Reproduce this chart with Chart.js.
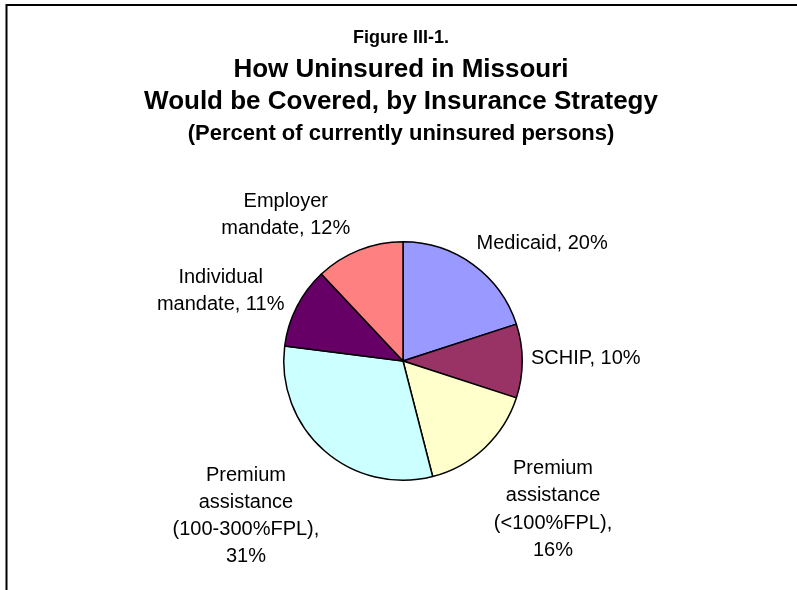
<!DOCTYPE html>
<html lang="en">

<head>
  <meta charset="utf-8">
  <meta name="viewport" content="width=device-width,initial-scale=1.0">
  <script src="https://cdn.jsdelivr.net/npm/chart.js@4.4.1/dist/chart.umd.min.js"></script>
  <title>Figure III-1</title>
</head>

<body>
  <canvas id="pie-chart" width="797" height="590"></canvas>
</body>

</html>

<style>
  body {
    margin: 0;
    background: #fff;
  }

  canvas {
    display: block;
  }
</style>

<script>
// data
const categories = ["Medicaid", "SCHIP", "Premium\nassistance\n(<100%FPL)", "Premium\nassistance\n(100-300%FPL)", "Individual\nmandate", "Employer\nmandate"];
const shares = [20, 10, 16, 31, 11, 12];
const colors = ['#9999FF', '#993366', '#FFFFCC', '#CCFFFF', '#660066', '#FF8080'];
const titleLines = ["Figure III-1.", "How Uninsured in Missouri", "Would be Covered, by Insurance Strategy", "(Percent of currently uninsured persons)"];

// label layout: percent on its own line or not, and where the block sits (in pie radii from centre)
const pctOwnLine = [false, false, true, true, false, false];
const labelSpot = [[1.167, -0.983], [1.533, -0.017], [1.258, 1.245], [-1.317, 1.300], [-1.529, -0.585], [-0.983, -1.225]];

const FONT = '"Liberation Sans", Arial, sans-serif';
const titleFonts = ['bold 18px ' + FONT, 'bold 26px ' + FONT, 'bold 26px ' + FONT, 'bold 22px ' + FONT];
const titleBase = [43, 77, 109, 140];

function labelLines(i) {
  const parts = categories[i].split("\n");
  if (pctOwnLine[i]) {
    parts[parts.length - 1] += ",";
    parts.push(shares[i] + "%");
  } else {
    parts[parts.length - 1] += ", " + shares[i] + "%";
  }
  return parts;
}

const decor = {
  id: 'decor',
  beforeDraw(chart) {
    const ctx = chart.ctx;
    ctx.save();
    ctx.fillStyle = '#fff';
    ctx.fillRect(0, 0, chart.width, chart.height);
    ctx.strokeStyle = '#000';
    ctx.lineWidth = 2;
    ctx.beginPath();
    ctx.moveTo(6.5, chart.height);
    ctx.lineTo(6.5, 5);
    ctx.lineTo(chart.width, 5);
    ctx.stroke();
    ctx.restore();
  },
  afterDraw(chart) {
    const ctx = chart.ctx;
    ctx.save();
    ctx.fillStyle = '#000';
    ctx.textAlign = 'center';
    ctx.textBaseline = 'alphabetic';
    titleLines.forEach((t, i) => {
      ctx.font = titleFonts[i];
      ctx.fillText(t, 401, titleBase[i]);
    });

    ctx.font = '20px ' + FONT;
    ctx.textBaseline = 'middle';
    const arcs = chart.getDatasetMeta(0).data;
    const lh = 27.3;
    arcs.forEach((arc, i) => {
      const r = arc.outerRadius;
      const cx = arc.x + labelSpot[i][0] * r;
      const cy = arc.y + labelSpot[i][1] * r;
      const lines = labelLines(i);
      const y0 = cy - (lines.length - 1) * lh / 2;
      lines.forEach((l, k) => ctx.fillText(l, cx, y0 + k * lh));
    });
    ctx.restore();
  }
};

const config = {
    type: 'pie',
    data: {
        labels: categories.map(c => c.replace(/\n/g, ' ')),
        datasets: [{
            data: shares,
            backgroundColor: colors,
            borderColor: '#000',
            borderWidth: 1.5,
        }]
    },
    options: {
        responsive: false,
        animation: false,
        devicePixelRatio: 1,
        layout: {
            padding: { left: 283, right: 274, top: 241, bottom: 109 }
        },
        plugins: {
            legend: { display: false },
            title: { display: false },
            tooltip: { enabled: false },
        },
    },
    plugins: [decor]
};

var chart = new Chart(document.getElementById("pie-chart"), config);
</script>
